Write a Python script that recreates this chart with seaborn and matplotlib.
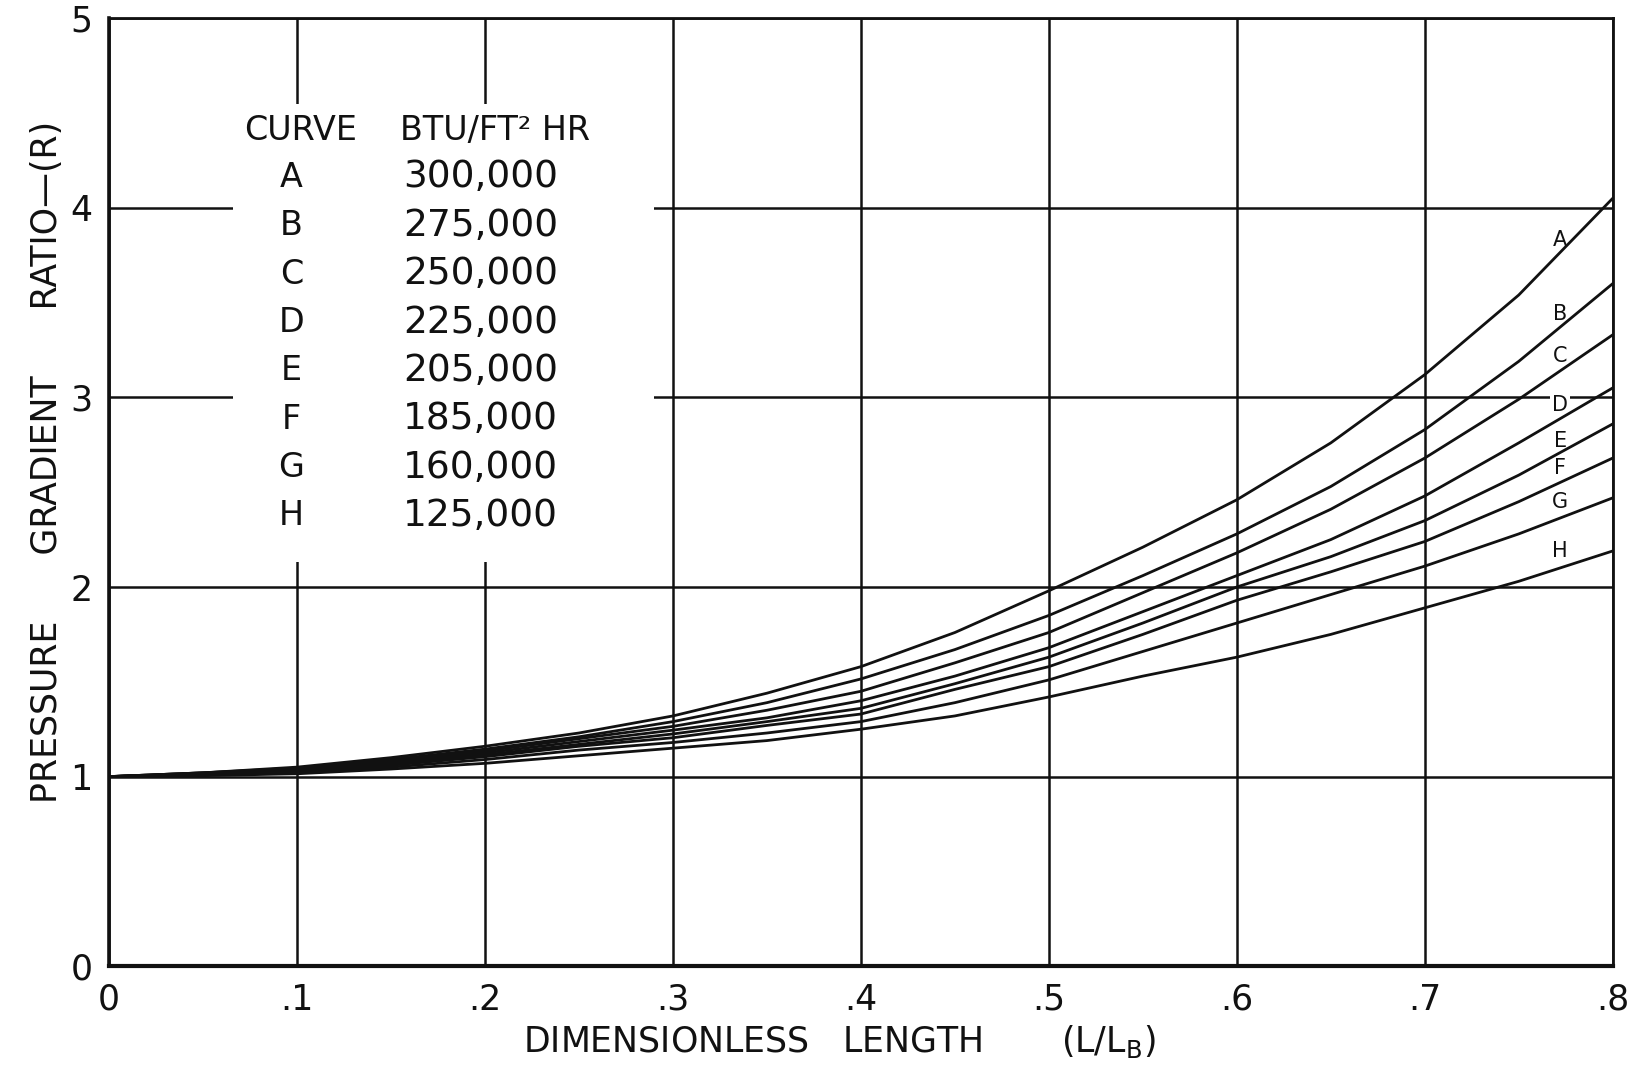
import matplotlib
matplotlib.use("Agg")
import matplotlib.pyplot as plt
from matplotlib.patches import Rectangle
import numpy as np
import pandas as pd
import seaborn as sns

# Dimensionless length L/L_B
length = [0.0, 0.05, 0.10, 0.15, 0.20, 0.25, 0.30, 0.35, 0.40,
          0.45, 0.50, 0.55, 0.60, 0.65, 0.70, 0.75, 0.80]

# Pressure gradient ratio R for each heat-flux curve
ratio_A = [1.00, 1.02, 1.05, 1.10, 1.16, 1.23, 1.32, 1.44, 1.58,
           1.76, 1.98, 2.21, 2.46, 2.76, 3.12, 3.54, 4.05]
ratio_B = [1.00, 1.02, 1.045, 1.09, 1.145, 1.21, 1.29, 1.39, 1.515,
           1.67, 1.85, 2.06, 2.28, 2.53, 2.83, 3.19, 3.60]
ratio_C = [1.00, 1.02, 1.04, 1.085, 1.135, 1.20, 1.265, 1.35, 1.45,
           1.60, 1.76, 1.97, 2.18, 2.41, 2.68, 2.99, 3.33]
ratio_D = [1.00, 1.015, 1.035, 1.08, 1.125, 1.185, 1.245, 1.31, 1.40,
           1.53, 1.68, 1.87, 2.06, 2.25, 2.48, 2.76, 3.05]
ratio_E = [1.00, 1.015, 1.03, 1.07, 1.115, 1.17, 1.225, 1.29, 1.36,
           1.49, 1.63, 1.81, 2.00, 2.16, 2.35, 2.59, 2.86]
ratio_F = [1.00, 1.01, 1.025, 1.06, 1.105, 1.16, 1.205, 1.27, 1.33,
           1.46, 1.58, 1.75, 1.93, 2.08, 2.24, 2.45, 2.68]
ratio_G = [1.00, 1.01, 1.02, 1.05, 1.09, 1.14, 1.18, 1.23, 1.29,
           1.39, 1.51, 1.66, 1.81, 1.96, 2.11, 2.28, 2.47]
ratio_H = [1.00, 1.005, 1.015, 1.04, 1.07, 1.11, 1.15, 1.19, 1.25,
           1.32, 1.42, 1.53, 1.63, 1.75, 1.89, 2.03, 2.19]

curve_names = ["A", "B", "C", "D", "E", "F", "G", "H"]
heat_flux = [300000, 275000, 250000, 225000, 205000, 185000, 160000, 125000]

x_tick_values = [0.0, 0.1, 0.2, 0.3, 0.4, 0.5, 0.6, 0.7, 0.8]
x_tick_labels = ["0", ".1", ".2", ".3", ".4", ".5", ".6", ".7", ".8"]
y_tick_values = [0, 1, 2, 3, 4, 5]
y_tick_labels = ["0", "1", "2", "3", "4", "5"]

all_ratios = [ratio_A, ratio_B, ratio_C, ratio_D, ratio_E, ratio_F, ratio_G, ratio_H]
df = pd.concat(
    [pd.DataFrame({"length": length, "ratio": r, "curve": name})
     for name, r in zip(curve_names, all_ratios)],
    ignore_index=True,
)

sns.set_theme(style="white")
plt.rcParams["font.family"] = ["DejaVu Sans"]
plt.rcParams["font.weight"] = "normal"
INK = "#111111"

fig = plt.figure(figsize=(16.29, 10.70), dpi=100)
ax = fig.add_axes([0.067, 0.097, 0.923, 0.886])

sns.lineplot(
    data=df, x="length", y="ratio", hue="curve",
    palette={n: INK for n in curve_names},
    estimator=None, sort=False, legend=False,
    linewidth=2.0, ax=ax, zorder=3,
)

ax.set_xlim(0, 0.8)
ax.set_ylim(0, 5)
ax.set_xticks(x_tick_values)
ax.set_xticklabels(x_tick_labels)
ax.set_yticks(y_tick_values)
ax.set_yticklabels(y_tick_labels)
ax.tick_params(axis="both", length=0, labelsize=25, colors=INK)
ax.tick_params(axis="x", pad=12)
ax.tick_params(axis="y", pad=12)
ax.set_xlabel("")
ax.set_ylabel("")

ax.set_axisbelow(True)
ax.grid(True, color=INK, linewidth=1.8)
for side, spine in ax.spines.items():
    spine.set_visible(True)
    spine.set_color(INK)
    spine.set_linewidth(2.0)
ax.spines["bottom"].set_linewidth(3.0)
ax.spines["left"].set_linewidth(2.6)

# White panel behind the heat-flux table, interrupting the grid
ax.add_patch(Rectangle((0.066, 2.13), 0.224, 2.42, facecolor="white",
                       edgecolor="none", zorder=1))

# Heat-flux table
ax.text(0.102, 4.41, "CURVE", ha="center", va="center", fontsize=24,
        color=INK, zorder=4)
ax.text(0.155, 4.41, "BTU/FT² HR", ha="left", va="center", fontsize=24,
        color=INK, zorder=4)
for i, (name, q) in enumerate(zip(curve_names, heat_flux)):
    yy = 4.16 - i * 0.255
    ax.text(0.097, yy, name, ha="center", va="center", fontsize=24,
            color=INK, zorder=4)
    ax.text(0.239, yy, f"{q:,}", ha="right", va="center", fontsize=27,
            color=INK, zorder=4)

# Curve letters near the right edge
label_y = [3.83, 3.44, 3.22, 2.96, 2.77, 2.63, 2.45, 2.19]
for name, yy in zip(curve_names, label_y):
    ax.text(0.772, yy, name, ha="center", va="center", fontsize=15,
            color=INK, zorder=2.5,
            bbox=dict(facecolor="white", edgecolor="none", pad=1.5))

fig.text(0.029, 0.568, "PRESSURE      GRADIENT      RATIO—(R)", rotation=90,
         ha="center", va="center", fontsize=25, color=INK)
fig.text(0.515, 0.027,
         r"DIMENSIONLESS   LENGTH       (L/L$_\mathregular{B}$)",
         ha="center", va="center", fontsize=25, color=INK)

fig.savefig("out.png", dpi=100, facecolor="white")
